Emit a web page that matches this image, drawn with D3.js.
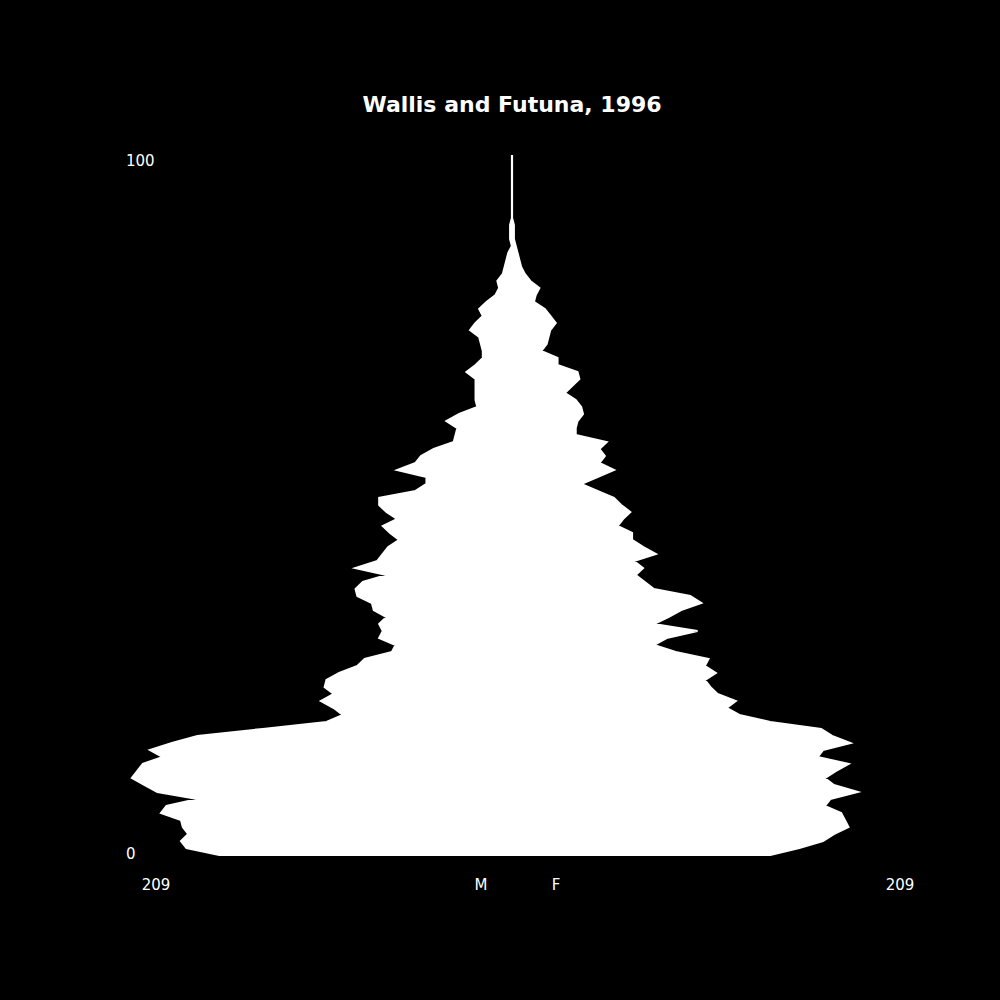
<!DOCTYPE html>
<html>
<head>
<meta charset="utf-8">
<script src="https://cdn.jsdelivr.net/npm/d3@7"></script>
<style>
	body { margin: 0; background: #000; }
	svg text { fill: #fff; font-family: "DejaVu Sans", sans-serif; }
	.title { font-size: 22px; font-weight: bold; }
	.tick { font-size: 15px; }
</style>
</head>
<body>
<div id="vizCont"></div>
<script>
// single year ages, 0 at the bottom
var ages = [0,1,2,3,4,5,6,7,8,9,10,11,12,13,14,15,16,17,18,19,20,21,22,23,24,25,26,27,28,29,30,31,32,33,34,35,36,37,38,39,40,41,42,43,44,45,46,47,48,49,50,51,52,53,54,55,56,57,58,59,60,61,62,63,64,65,66,67,68,69,70,71,72,73,74,75,76,77,78,79,80,81,82,83,84,85,86,87,88,89,90,91,92,93,94,95,96,97,98,99,100];

var male = [161,179,182,178,181,182,193,190,173,195,202,209,206,203,192,199,187,173,137,102,
	93,98,105,98,103,102,95,85,81,66,64,73,71,73,69,76,77,85,86,82,
	69,86,74,71,68,62,67,71,63,69,73,73,53,47,47,63,53,50,43,32,
	31,30,36,29,19,20,20,20,20,25,20,16,16,17,18,23,20,16,18,14,
	9,7,8,5,4,3,2,0,1,1,1,0,0,0,0,0,0,0,0,0,0];

var female = [142,158,171,177,185,183,181,172,175,190,177,172,178,185,168,171,186,176,170,142,
	125,118,123,113,109,106,112,106,108,90,78,85,102,78,86,93,104,98,78,73,
	68,72,67,79,72,66,66,58,61,65,60,56,47,38,47,56,48,51,48,52,
	35,35,36,39,38,35,29,33,37,36,25,25,16,19,20,21,24,21,18,12,
	13,15,10,7,5,4,3,2,1,1,1,0,0,0,0,0,0,0,0,0,0];

var title = 'Wallis and Futuna, 1996';
var ageLabels = [0, 100];
var maxPop = 209;
var sexLabels = ['M', 'F'];

document.addEventListener("DOMContentLoaded", function() {

	var rows = ages.map(function(a, i) {
		return {age: a, m: male[i], f: female[i]};
	});

	var svg = d3.select('div#vizCont').append('svg')
		.attr('width', 1000)
		.attr('height', 1000);

	x = d3.scaleLinear()
		.domain([-maxPop, maxPop])
		.range([132, 892]);

	y = d3.scaleLinear()
		.domain([0, 100])
		.range([855, 155]);

	pyramid = d3.area()
		.y(d => y(d.age))
		.x0(d => x(-d.m))
		.x1(d => x(d.f));

	svg.append('path')
		.datum(rows)
		.attr('d', pyramid)
		.attr('fill', '#fff')
		.attr('stroke', '#fff')
		.attr('stroke-width', 2.2)
		.attr('stroke-linejoin', 'miter');

	svg.append('text')
		.attr('class', 'title')
		.attr('x', x(0))
		.attr('y', 112)
		.attr('text-anchor', 'middle')
		.text(title);

	// age labels on the left: top one hangs below its line, bottom one sits on it
	svg.selectAll('text.ageLabel')
		.data(ageLabels)
		.enter()
		.append('text')
		.attr('class', 'tick ageLabel')
		.attr('x', 126)
		.attr('y', d => d == 100 ? y(d) + 11 : y(d) + 4)
		.text(d => d);

	// bottom row: extent, sexes, extent
	svg.selectAll('text.popLabel')
		.data([
			{label: maxPop, pos: 156},
			{label: sexLabels[0], pos: 481},
			{label: sexLabels[1], pos: 556},
			{label: maxPop, pos: 900}
		])
		.enter()
		.append('text')
		.attr('class', 'tick popLabel')
		.attr('x', d => d.pos)
		.attr('y', 890)
		.attr('text-anchor', 'middle')
		.text(d => d.label);
});
</script>
</body>
</html>
